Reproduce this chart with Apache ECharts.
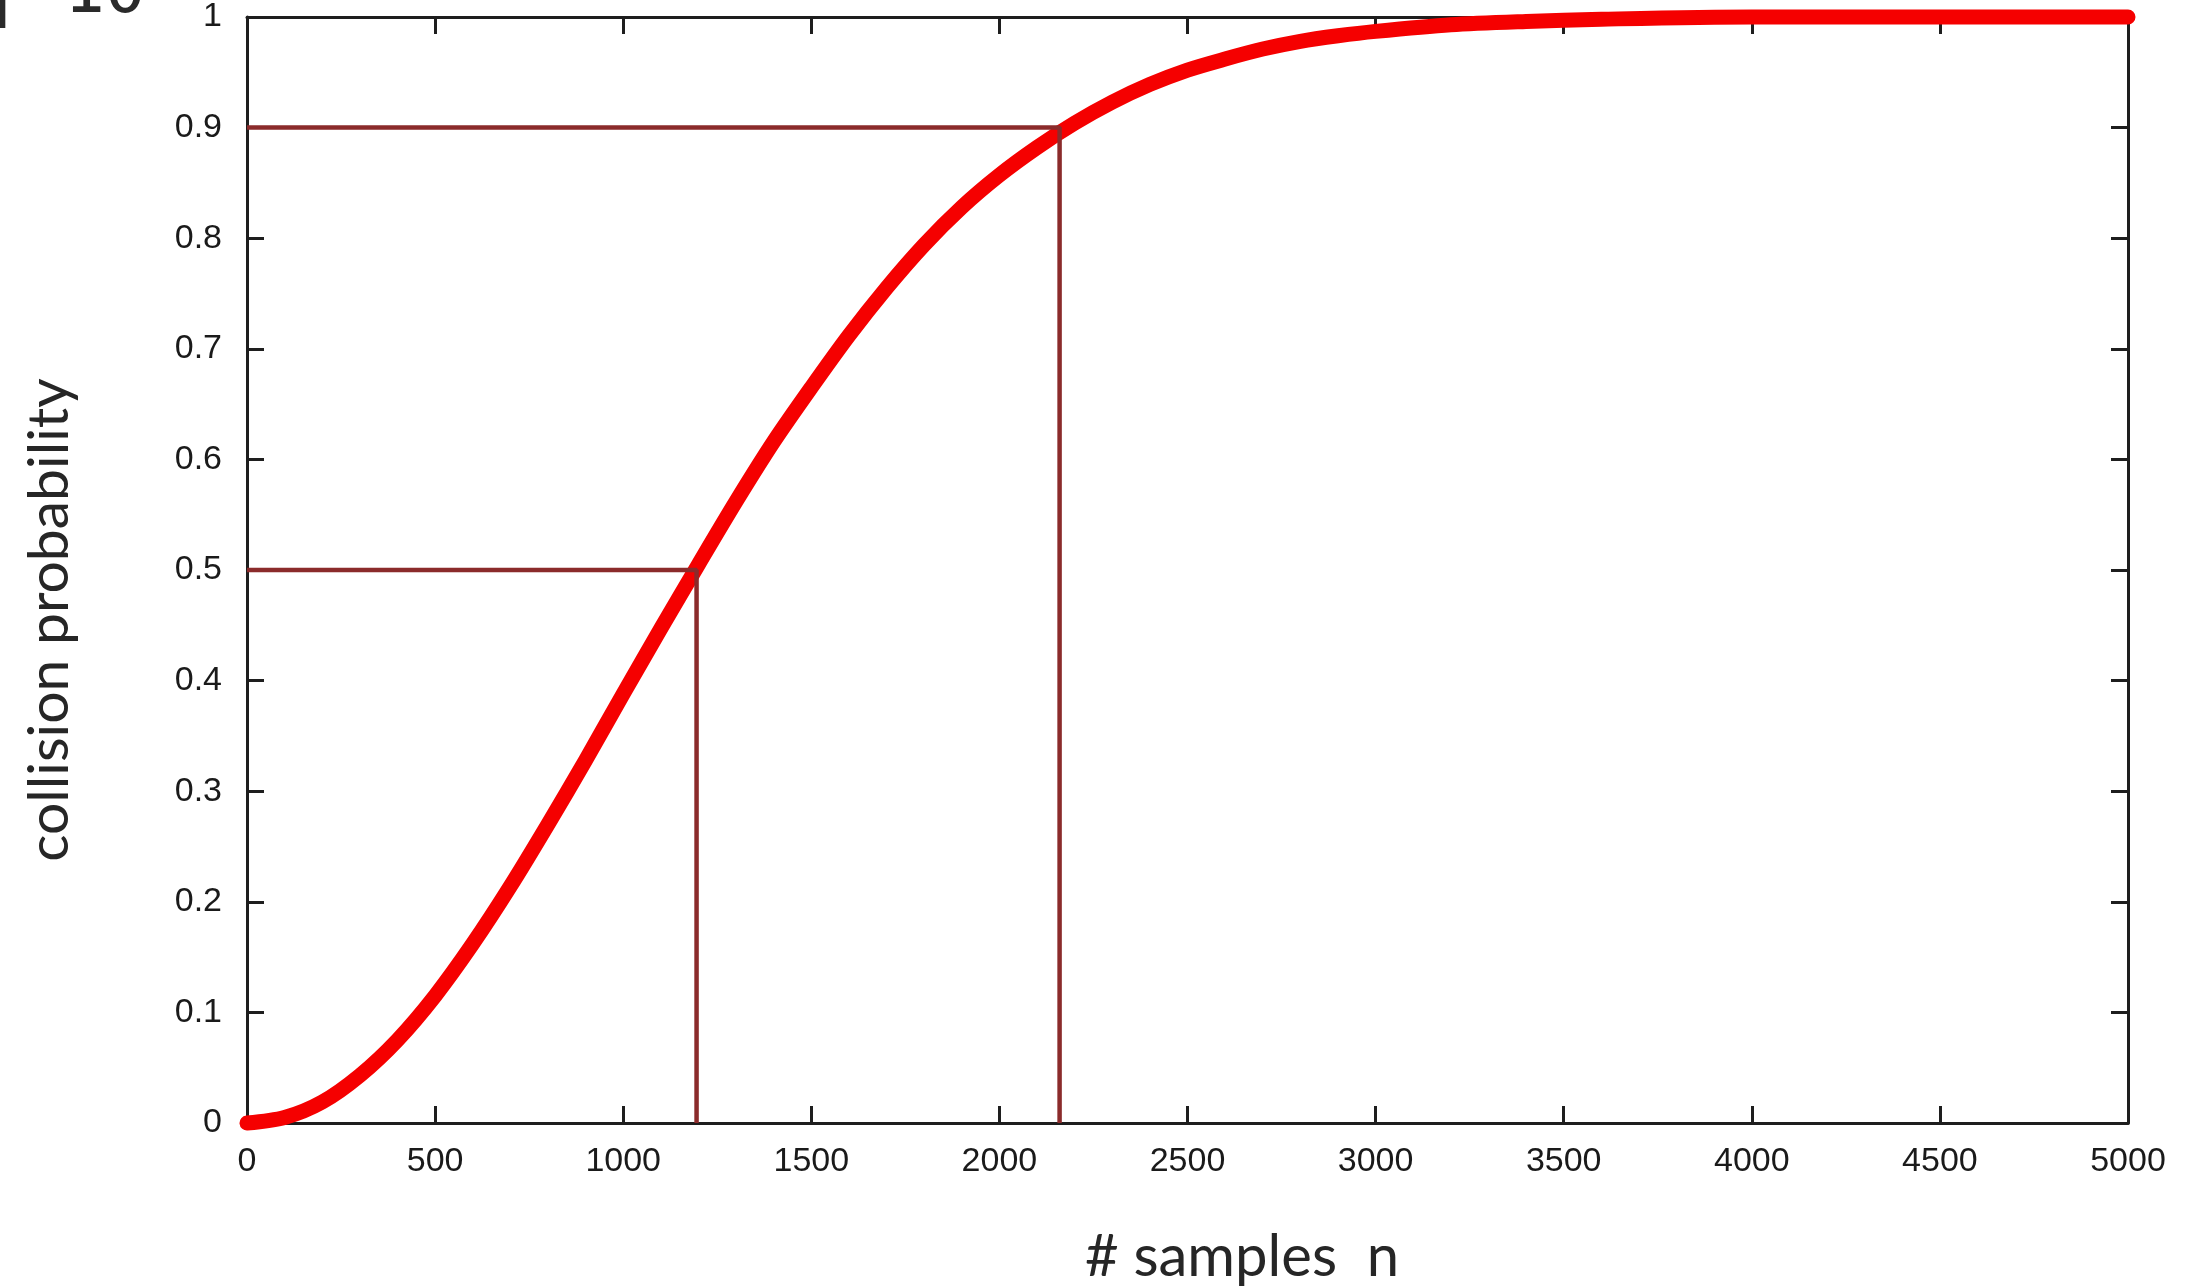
<!DOCTYPE html>
<html>
<head>
<meta charset="utf-8">
<script src="https://cdn.jsdelivr.net/npm/echarts@6/dist/echarts.min.js"></script>
<style>
  html, body { margin: 0; padding: 0; background: #fff; }
  #main { width: 2194px; height: 1287px; }
</style>
</head>
<body>
<div id="main"></div>
<script>
// samples n and the collision probability
var samples = [0, 100, 200, 300, 400, 500, 600, 700, 800, 900, 1000, 1100, 1200, 1300, 1400,
    1500, 1600, 1700, 1800, 1900, 2000, 2100, 2200, 2300, 2400, 2500, 2600, 2700, 2800,
    2900, 3000, 3200, 3400, 3600, 4000, 4500, 5000];
var probability = [0, 0.005, 0.019, 0.043, 0.075, 0.115, 0.162, 0.214, 0.27, 0.328, 0.388,
    0.447, 0.505, 0.562, 0.616, 0.665, 0.712, 0.755, 0.794, 0.828, 0.857, 0.882, 0.904,
    0.923, 0.939, 0.952, 0.962, 0.971, 0.978, 0.983, 0.987, 0.993, 0.996, 0.998, 1, 1, 1];

// guide lines: probability level and the n where the curve reaches it
var levels = [0.5, 0.9];
var crossings = [1195, 2160];

var xTicks = { min: 0, max: 5000, interval: 500 };
var yTicks = { min: 0, max: 1, interval: 0.1 };

var chartDom = document.getElementById('main');
var myChart = echarts.init(chartDom);
var option;

var curveData = samples.map(function (n, i) { return [n, probability[i]]; });

var guideSeries = levels.map(function (p, i) {
    return {
        type: 'line',
        data: [[0, p], [crossings[i], p], [crossings[i], 0]],
        symbol: 'none',
        z: 5,
        lineStyle: { color: '#8b2b2b', width: 4.5 },
        animation: false
    };
});

// each axis gets its own style objects, top/right ones only draw the frame
function frameAxis(pos, ticks, showLabel, margin) {
    return {
        type: 'value',
        position: pos,
        min: ticks.min, max: ticks.max, interval: ticks.interval,
        axisLine: { show: true, onZero: false, lineStyle: { color: '#1e1e1e', width: 3 } },
        axisTick: { show: true, inside: true, length: 17, lineStyle: { color: '#1e1e1e', width: 3 } },
        axisLabel: {
            show: showLabel,
            margin: margin,
            color: '#1a1a1a',
            fontSize: 34,
            fontFamily: 'Liberation Sans',
            formatter: function (v) { return String(v); }
        },
        splitLine: { show: false }
    };
}

option = {
    backgroundColor: '#fff',
    animation: false,
    grid: { left: 247, right: 66, top: 15, bottom: 164 },
    xAxis: [
        frameAxis('bottom', xTicks, true, 22),
        frameAxis('top', xTicks, false, 0)
    ],
    yAxis: [
        frameAxis('left', yTicks, true, 25),
        frameAxis('right', yTicks, false, 0)
    ],
    graphic: [
        {
            type: 'text',
            left: -18,
            top: -40,
            style: {
                text: '|\u221210',
                font: '68px "DejaVu Sans Mono"',
                fill: '#2a2a2a'
            }
        },
        {
            type: 'text',
            x: 50,
            y: 620,
            rotation: Math.PI / 2,
            style: {
                text: 'collision probability',
                font: '57px Lato',
                fill: '#262626',
                align: 'center',
                verticalAlign: 'middle'
            }
        },
        {
            type: 'text',
            x: 1242,
            y: 1257,
            style: {
                text: '# samples  n',
                font: '58px Lato',
                fill: '#262626',
                align: 'center',
                verticalAlign: 'middle'
            }
        }
    ],
    series: [
        {
            type: 'line',
            data: curveData,
            symbol: 'none',
            smooth: 0.3,
            clip: false,
            z: 3,
            lineStyle: { color: '#f50000', width: 15, cap: 'round', join: 'round' }
        }
    ].concat(guideSeries)
};

option && myChart.setOption(option);
</script>
</body>
</html>
